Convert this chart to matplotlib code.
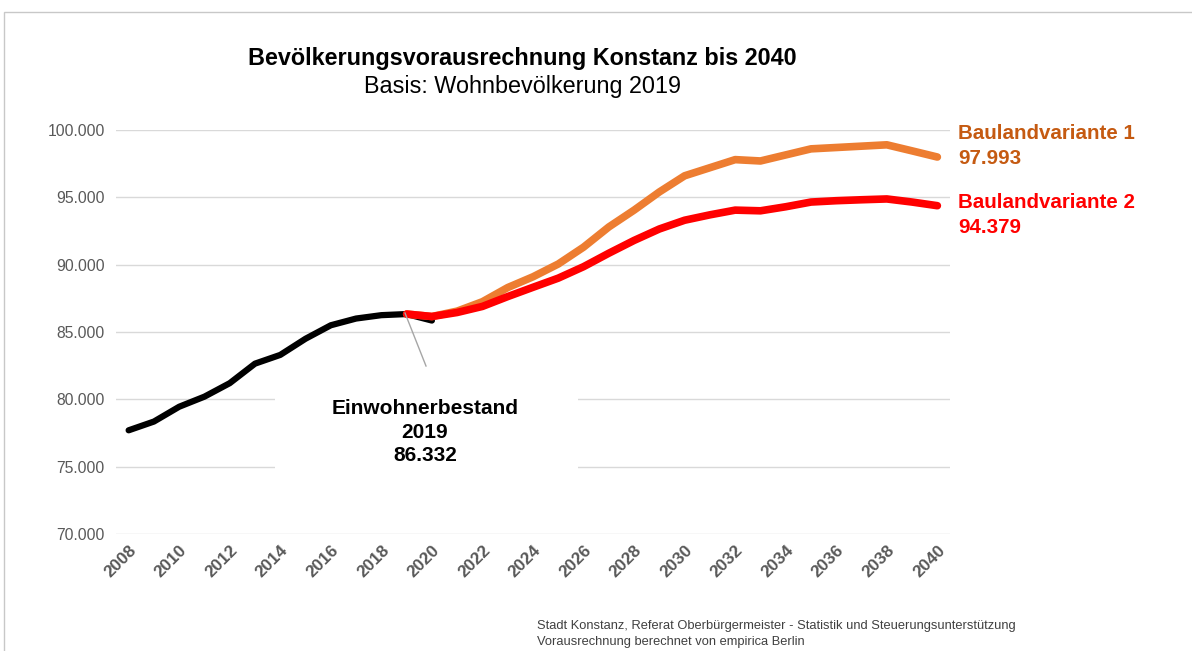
import matplotlib
matplotlib.use("Agg")
import matplotlib.pyplot as plt
from matplotlib.patches import Rectangle
from matplotlib.ticker import FuncFormatter

plt.rcParams['font.family'] = ['Liberation Sans', 'DejaVu Sans']

# ---- data ----
years_hist = list(range(2008, 2021))
bestand = [77700, 78350, 79450, 80200, 81200, 82650, 83300, 84500, 85500,
           86000, 86250, 86332, 85850]

years_proj = list(range(2019, 2041))
variante1 = [86332, 86150, 86550, 87250, 88300, 89100, 90050, 91300, 92800,
             94050, 95400, 96600, 97200, 97800, 97700, 98150, 98600, 98700,
             98800, 98900, 98450, 97993]
variante2 = [86332, 86150, 86450, 86900, 87630, 88320, 89000, 89850, 90850,
             91800, 92650, 93300, 93700, 94050, 94000, 94300, 94650, 94750,
             94820, 94880, 94650, 94379]

xticks = list(range(2008, 2041, 2))
yticks = [70000, 75000, 80000, 85000, 90000, 95000, 100000]

title = "Bevölkerungsvorausrechnung Konstanz bis 2040"
subtitle = "Basis: Wohnbevölkerung 2019"
label1 = "Baulandvariante 1\n97.993"
label2 = "Baulandvariante 2\n94.379"
annot = "Einwohnerbestand\n2019\n86.332"
footer = ("Stadt Konstanz, Referat Oberbürgermeister - Statistik und Steuerungsunterstützung\n"
          "Vorausrechnung berechnet von empirica Berlin")

W, H = 1192, 651
fig = plt.figure(figsize=(W / 100, H / 100), dpi=100)
fig.patch.set_facecolor('white')

# slide frame
fig.add_artist(Rectangle((4 / W, -0.1), 1.2, 1 - 12 / H + 0.1, transform=fig.transFigure,
                         fill=False, edgecolor='#c8c8c8', linewidth=1.0))

ax = fig.add_axes([116 / W, 1 - 534 / H, (950 - 116) / W, (534 - 130) / H])
ax.set_xlim(2007.5, 2040.5)
ax.set_ylim(70000, 100000)

for s in ax.spines.values():
    s.set_visible(False)
ax.set_yticks(yticks)
ax.yaxis.set_major_formatter(FuncFormatter(lambda v, p: f"{int(v):,}".replace(",", ".")))
ax.grid(axis='y', color='#d9d9d9', linewidth=1.0)
ax.tick_params(axis='y', length=0, pad=8, labelsize=11.3, labelcolor='#595959')
ax.set_xticks(xticks)
ax.set_xticklabels([str(x) for x in xticks], rotation=45, ha='right', va='top',
                   rotation_mode='anchor', fontweight='bold', fontsize=12.3, color='#595959')
ax.tick_params(axis='x', length=0, pad=6)

ax.plot(years_hist, bestand, color='black', linewidth=4.5, solid_capstyle='round',
        solid_joinstyle='round', zorder=3)
ax.plot(years_proj, variante1, color='#ED7D31', linewidth=5.5, solid_capstyle='round',
        solid_joinstyle='round', zorder=4)
ax.plot(years_proj, variante2, color='#FF0000', linewidth=5.5, solid_capstyle='round',
        solid_joinstyle='round', zorder=5)

# white box behind the annotation (hides gridlines)
ax.add_artist(Rectangle((275 / W, 1 - 482 / H), 303 / W, 100 / H, transform=fig.transFigure,
                        facecolor='white', edgecolor='none', zorder=2))
ax.annotate(annot, xy=(2019, bestand[years_hist.index(2019)]), xytext=(425 / W, 1 - 432 / H),
            textcoords='figure fraction', ha='center', va='center', fontsize=15,
            fontweight='bold', color='black', linespacing=1.29, zorder=6)
fig.add_artist(plt.Line2D([405 / W, 426 / W], [1 - 313 / H, 1 - 366 / H],
                          color='#a6a6a6', linewidth=1.0))

# end labels
fig.text(958 / W, 1 - 146 / H, label1, ha='left', va='center', fontsize=14.8,
         fontweight='bold', color='#C55A11', linespacing=1.42)
fig.text(958 / W, 1 - 215 / H, label2, ha='left', va='center', fontsize=14.8,
         fontweight='bold', color='#FF0000', linespacing=1.42)

# titles
fig.text(522 / W, 1 - 58 / H, title, ha='center', va='center', fontsize=16.8,
         fontweight='bold', color='black')
fig.text(522 / W, 1 - 86 / H, subtitle, ha='center', va='center', fontsize=16.8,
         color='black')

# footer
fig.text(537 / W, 1 - 634 / H, footer, ha='left', va='center', fontsize=9.3,
         color='#404040', linespacing=1.5)

fig.savefig('out.png', dpi=100, facecolor='white')
